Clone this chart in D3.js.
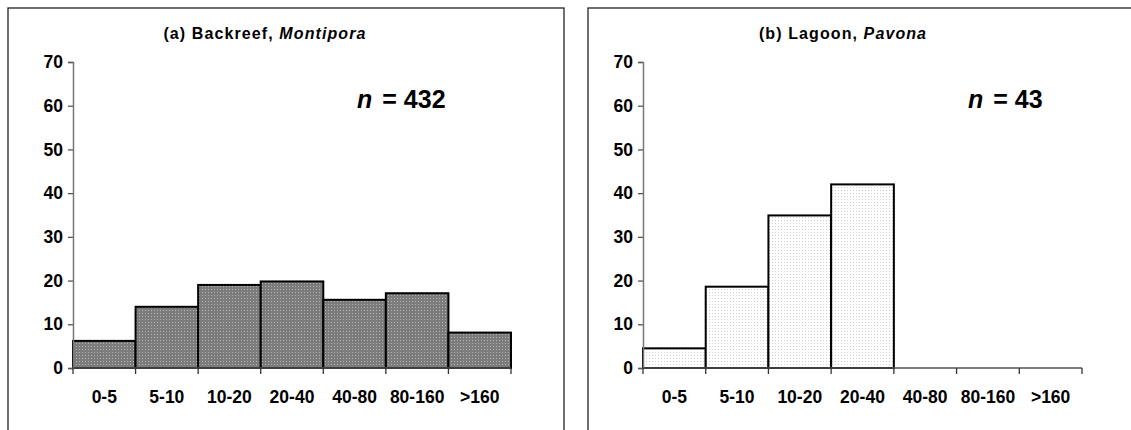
<!DOCTYPE html>
<html>
<head>
<meta charset="utf-8">
<script src="https://cdn.jsdelivr.net/npm/d3@7"></script>
<style>
  body { margin: 0; background: #fff; }
  text { font-family: "Liberation Sans", Arial, sans-serif; font-weight: bold; fill: #000; }
</style>
</head>
<body>
<div id="chart"></div>
<script>
// data
var classes = ['0-5', '5-10', '10-20', '20-40', '40-80', '80-160', '>160'];
var backreef = [6.2, 14.0, 19.0, 19.8, 15.6, 17.1, 8.1];
var lagoon = [4.5, 18.6, 34.9, 42.0, 0, 0, 0];
var yTicks = [0, 10, 20, 30, 40, 50, 60, 70];

var W = 1131, H = 430;

var svg = d3.select('#chart').append('svg')
    .attr('width', W)
    .attr('height', H)

var defs = svg.append('defs')

// dotted fills
function dots(id, bg, dot) {
    var p = defs.append('pattern')
        .attr('id', id)
        .attr('width', 3)
        .attr('height', 3)
        .attr('patternUnits', 'userSpaceOnUse')
    p.append('rect').attr('width', 3).attr('height', 3).attr('fill', bg)
    p.append('rect').attr('x', 1).attr('y', 1).attr('width', 1).attr('height', 1).attr('fill', dot)
}
dots('darkDots', '#7c7c7c', '#b4b4b4')
dots('lightDots', '#ffffff', '#cfcfcf')

function panel(opt) {
    var g = svg.append('g')

    // frame (runs off the bottom of the picture)
    g.append('rect')
        .attr('x', opt.frame[0])
        .attr('y', 8)
        .attr('width', opt.frame[1] - opt.frame[0])
        .attr('height', 460)
        .attr('fill', 'none')
        .attr('stroke', '#222')
        .attr('stroke-width', 1.3)

    var x = d3.scaleBand()
        .domain(classes)
        .range([opt.x0, opt.x1])
        .padding(0)

    var y = d3.scaleLinear()
        .domain([0, 70])
        .range([368, 62])

    // bars
    g.selectAll('rect.bar')
        .data(opt.values.map((v, i) => ({ c: classes[i], v: v })).filter(d => d.v > 0))
        .join('rect')
        .attr('class', 'bar')
        .attr('x', d => x(d.c))
        .attr('y', d => y(d.v))
        .attr('width', x.bandwidth())
        .attr('height', d => y(0) - y(d.v))
        .attr('fill', opt.fill)
        .attr('stroke', '#000')
        .attr('stroke-width', 2)

    // y axis
    var ya = g.append('g')
        .attr('transform', `translate(${opt.x0},0)`)
        .call(d3.axisLeft(y).tickValues(yTicks).tickSize(5).tickPadding(5).tickFormat(d3.format('d')))
    ya.select('.domain').attr('stroke', '#777').attr('stroke-width', 1.5)
    ya.selectAll('.tick line').attr('stroke', '#555').attr('stroke-width', 1.3)
    ya.selectAll('text').style('font-size', '17.5px').attr('fill', '#000')

    // x axis: ticks on class boundaries
    var xa = g.append('g').attr('transform', `translate(0,${y(0)})`)
    xa.append('line')
        .attr('x1', opt.x0).attr('x2', opt.x1)
        .attr('stroke', '#555').attr('stroke-width', 1.5)
    xa.selectAll('line.tk')
        .data(classes.concat(['end']))
        .join('line')
        .attr('class', 'tk')
        .attr('x1', (d, i) => i < classes.length ? x(d) : opt.x1)
        .attr('x2', (d, i) => i < classes.length ? x(d) : opt.x1)
        .attr('y1', 0).attr('y2', 6)
        .attr('stroke', '#333').attr('stroke-width', 1.3)
    xa.selectAll('text')
        .data(classes)
        .join('text')
        .attr('x', d => x(d) + x.bandwidth() / 2)
        .attr('y', 35)
        .attr('text-anchor', 'middle')
        .style('font-size', '17.5px')
        .text(d => d)

    // title
    var t = g.append('text')
        .attr('x', opt.titleX)
        .attr('y', 39)
        .attr('text-anchor', 'middle')
        .style('font-size', '16px')
        .style('letter-spacing', '1.1px')
    t.append('tspan').text(opt.title[0])
    t.append('tspan').style('font-style', 'italic').text(opt.title[1])

    // sample size
    var n = g.append('text')
        .attr('x', opt.nX)
        .attr('y', 108)
        .style('font-size', '25px')
    n.append('tspan').style('font-style', 'italic').text('n')
    n.append('tspan').attr('dx', 10).text('= ' + opt.n)
}

panel({
    frame: [8, 564], x0: 73, x1: 511,
    values: backreef, fill: 'url(#darkDots)',
    title: ['(a) Backreef, ', 'Montipora'], titleX: 265,
    n: 432, nX: 357
})

panel({
    frame: [588, 1140], x0: 643, x1: 1082,
    values: lagoon, fill: 'url(#lightDots)',
    title: ['(b) Lagoon, ', 'Pavona'], titleX: 843,
    n: 43, nX: 968
})
</script>
</body>
</html>
